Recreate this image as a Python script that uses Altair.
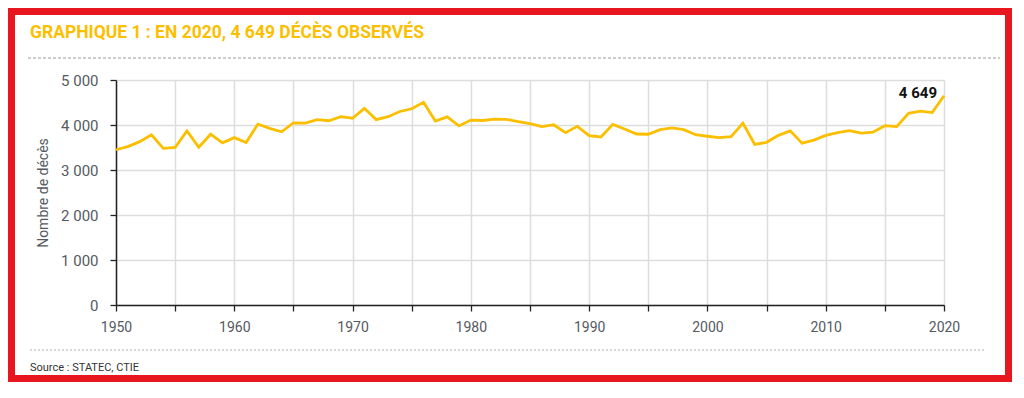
import altair as alt
import pandas as pd

years = list(range(1950, 2021))
deaths = [
    3450, 3520, 3630, 3780, 3480, 3500, 3870, 3505, 3795, 3605,
    3720, 3610, 4020, 3925, 3850, 4045, 4040, 4120, 4095, 4185,
    4150, 4370, 4120, 4185, 4300, 4360, 4505, 4090, 4180, 3980,
    4110, 4100, 4130, 4125, 4075, 4030, 3965, 4005, 3830, 3970,
    3765, 3735, 4015, 3910, 3800, 3795, 3895, 3935, 3895, 3785,
    3750, 3720, 3740, 4040, 3570, 3615, 3770, 3870, 3595, 3665,
    3770, 3830, 3875, 3820, 3840, 3985, 3965, 4260, 4310, 4275,
    4649,
]
title_text = ["GRAPHIQUE 1 : EN 2020, 4 649 DÉCÈS OBSERVÉS"]
source_text = ["Source : STATEC, CTIE"]
y_title = "Nombre de décès"
annot_year = [2020]
annot_value = [4649]
annot_label = ["4 649"]

df = pd.DataFrame({"year": years, "deaths": deaths})
one = pd.DataFrame({"k": [0]})

W, H = 828, 225
FONT = "Roboto"
GRAY = "#555a5f"
YELLOW = "#FBBF00"

xscale = alt.Scale(domain=[1950, 2020], nice=False, zero=False)
yscale = alt.Scale(domain=[0, 5000], nice=False)

frame = alt.Chart(one).mark_rect(filled=False, stroke="#E8161E", strokeWidth=7).encode(
    x=alt.value(-104.5), x2=alt.value(892.5), y=alt.value(-68.5), y2=alt.value(298.5)
)

line = alt.Chart(df).mark_line(color=YELLOW, strokeWidth=2.8).encode(
    x=alt.X(
        "year:Q",
        scale=xscale,
        axis=alt.Axis(
            values=list(range(1950, 2021, 5)),
            labelExpr="datum.value % 10 == 0 ? datum.label : ''",
            format="d",
            title=None,
            grid=True,
            gridColor="#dddddd",
            gridWidth=1.5,
            domainColor="#222222",
            domainWidth=1.5,
            tickColor="#222222",
            tickWidth=1.3,
            tickSize=6,
            labelPadding=9,
            labelFlush=False,
            labelOverlap=False,
            labelFont=FONT,
            labelFontSize=14,
            labelColor=GRAY,
        ),
    ),
    y=alt.Y(
        "deaths:Q",
        scale=yscale,
        axis=alt.Axis(
            values=list(range(0, 5001, 500)),
            labelExpr="datum.value % 1000 == 0 ? replace(format(datum.value, ','), ',', ' ') : ''",
            title=y_title,
            titleFont=FONT,
            titleFontSize=14,
            titleFontWeight="normal",
            titleColor=GRAY,
            titlePadding=10,
            grid=True,
            gridColor="#dddddd",
            gridWidth=1.5,
            domainColor="#222222",
            domainWidth=1.5,
            tickColor="#222222",
            tickWidth=1.3,
            tickSize=6,
            labelPadding=12,
            labelFlush=False,
            labelOverlap=False,
            labelFont=FONT,
            labelFontSize=15,
            labelColor=GRAY,
        ),
    ),
)

annot = alt.Chart(
    pd.DataFrame({"year": annot_year, "deaths": annot_value, "lab": annot_label})
).mark_text(
    align="right", baseline="middle", dx=-7, dy=-3,
    font=FONT, fontSize=15, fontWeight="bold", color="#111111",
).encode(x=alt.X("year:Q", scale=xscale), y=alt.Y("deaths:Q", scale=yscale), text="lab:N")

title = alt.Chart(pd.DataFrame({"t": title_text})).mark_text(
    align="left", baseline="alphabetic", font=FONT, fontSize=17.5,
    fontWeight="bold", color=YELLOW,
).encode(x=alt.value(-86), y=alt.value(-42), text="t:N")

dash_top = alt.Chart(one).mark_rule(color="#9a9a9a", strokeDash=[3, 2], strokeWidth=1).encode(
    x=alt.value(-88), x2=alt.value(884), y=alt.value(-22)
)
dash_bot = alt.Chart(one).mark_rule(color="#b0b0b0", strokeDash=[2, 2], strokeWidth=1.2).encode(
    x=alt.value(-86), x2=alt.value(868), y=alt.value(270)
)

source = alt.Chart(pd.DataFrame({"s": source_text})).mark_text(
    align="left", baseline="middle", font=FONT, fontSize=11, color="#333333",
).encode(x=alt.value(-86), y=alt.value(288), text="s:N")

chart = alt.layer(line, frame, dash_top, dash_bot, title, source, annot).properties(
    width=W,
    height=H,
    autosize=alt.AutoSizeParams(type="none"),
    padding={"left": 108, "top": 72, "right": 68, "bottom": 77},
    background="white",
).configure_view(strokeWidth=0)

chart.save("out.html", embed_options={"renderer": "svg", "actions": False})
